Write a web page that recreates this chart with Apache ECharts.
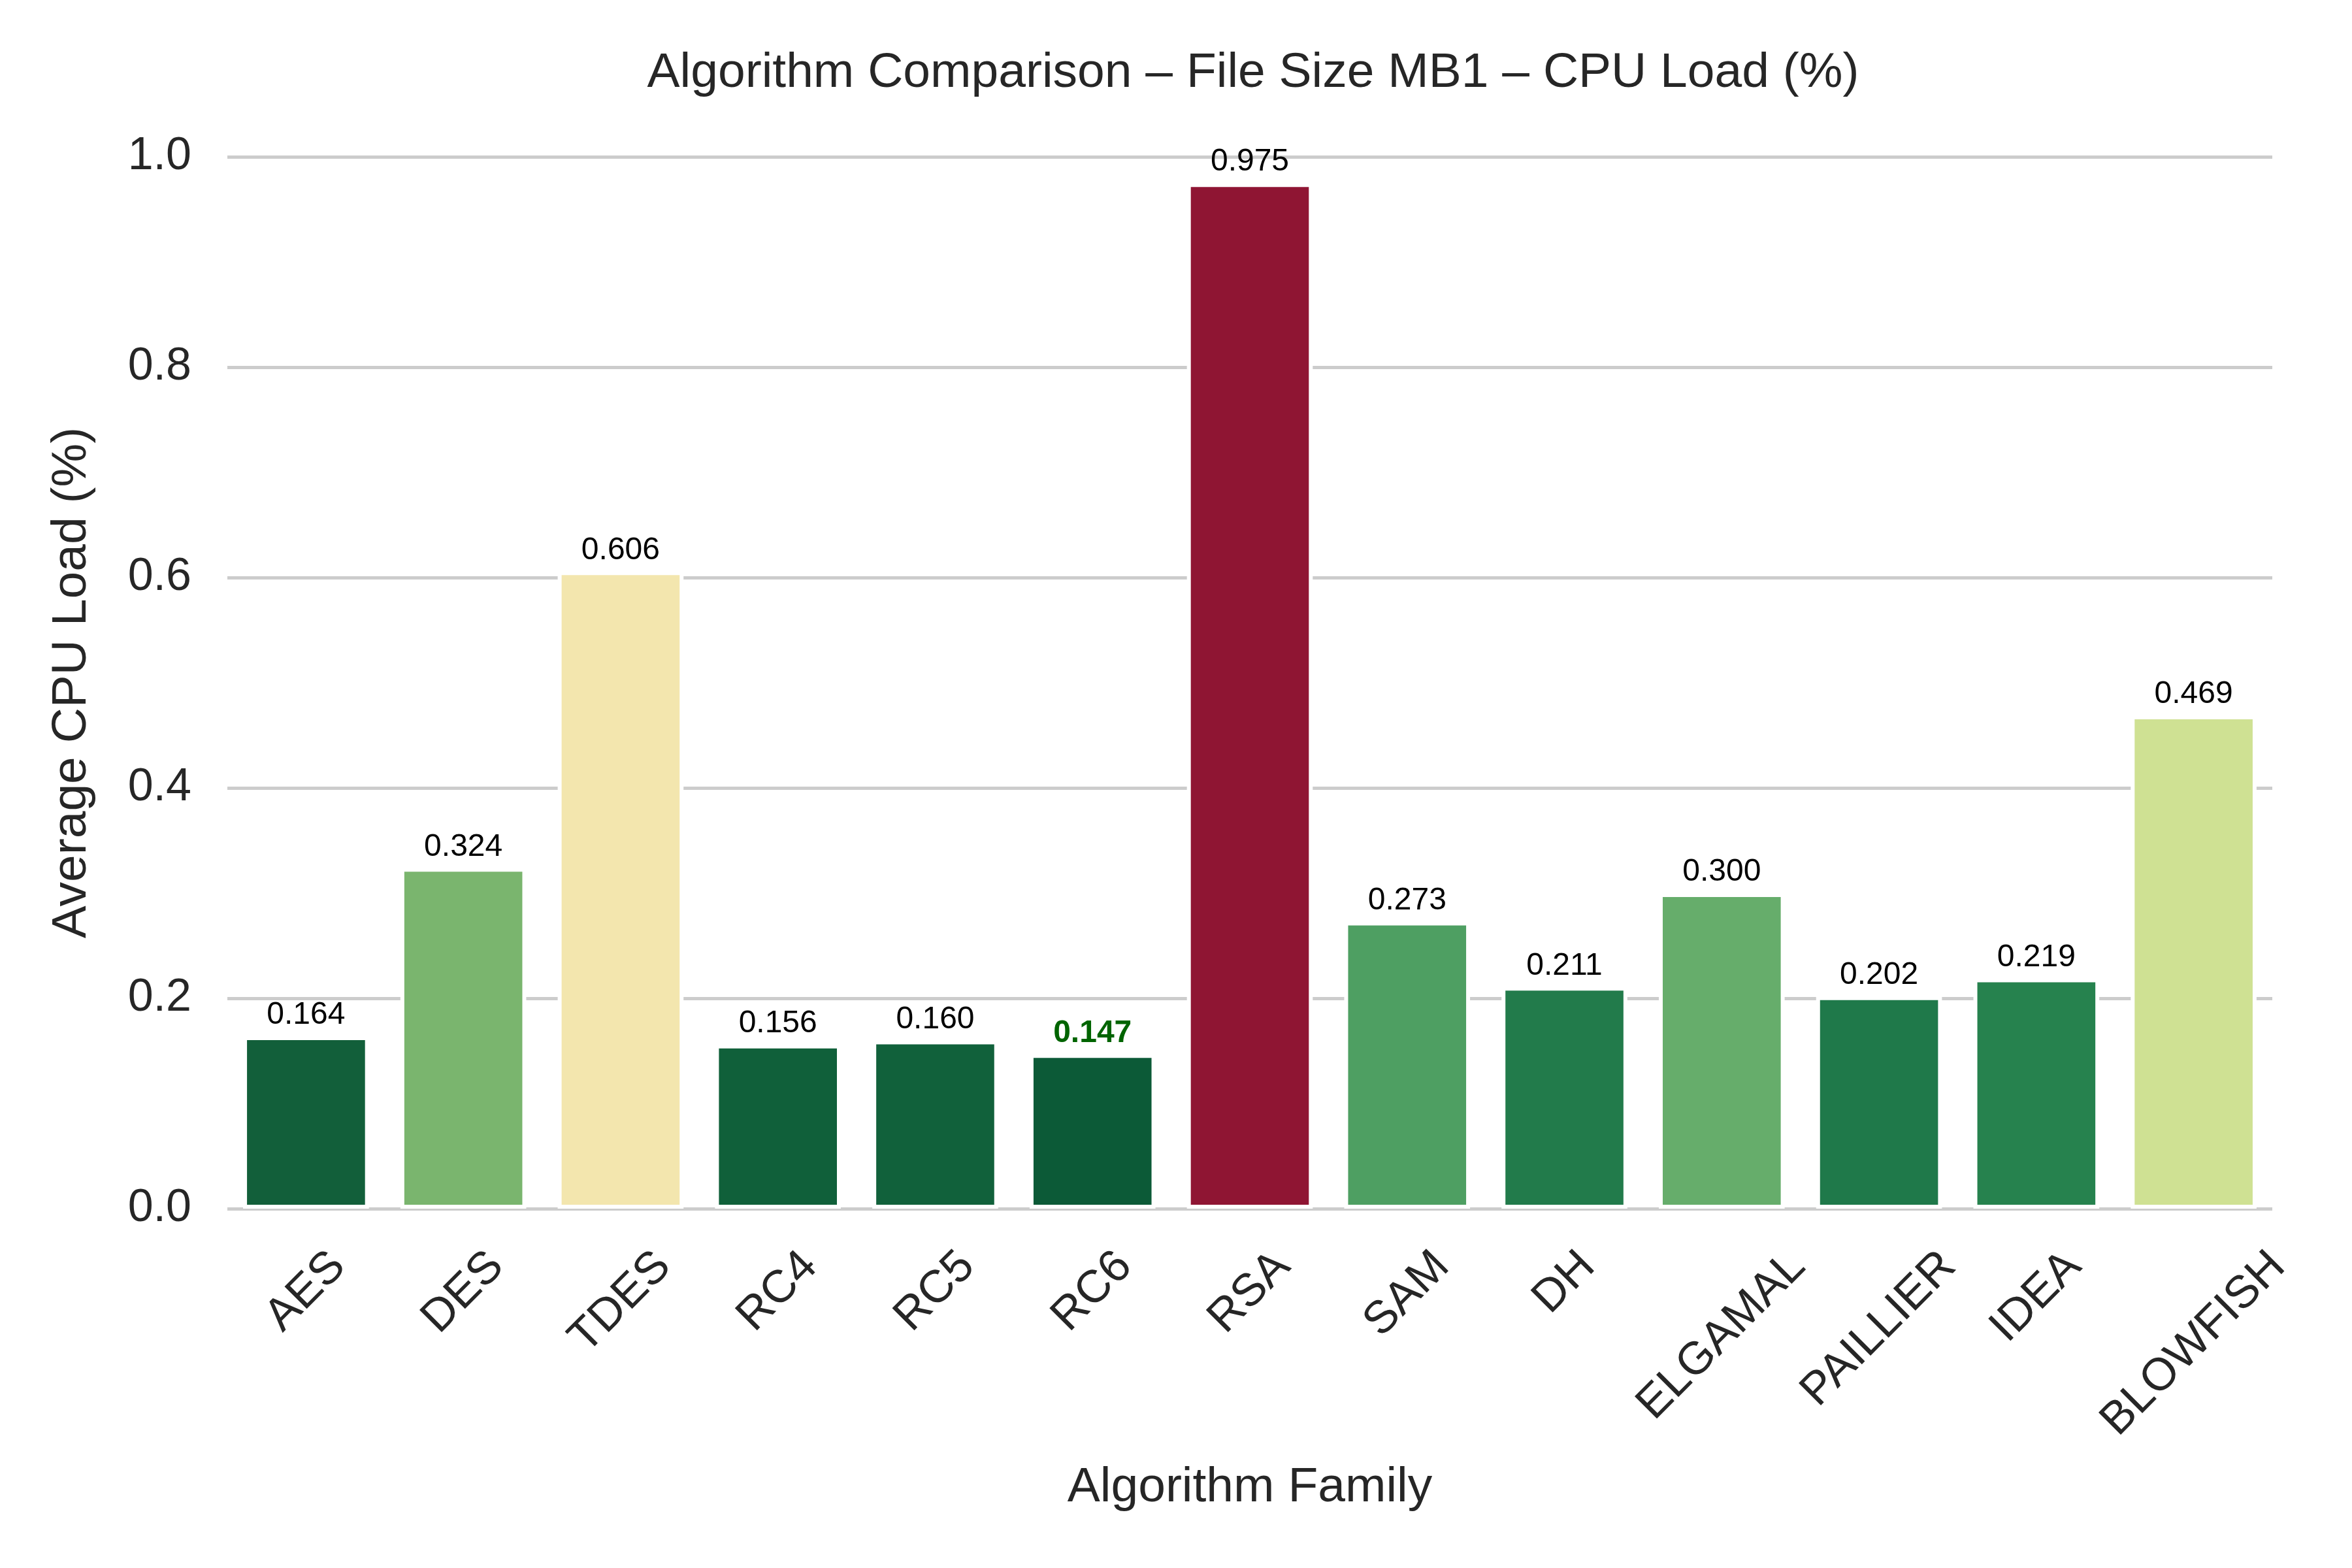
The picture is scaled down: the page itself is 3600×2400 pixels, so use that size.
<!DOCTYPE html>
<html>
<head>
<meta charset="utf-8">
<script src="https://cdn.jsdelivr.net/npm/echarts@6/dist/echarts.min.js"></script>
<style>
html,body{margin:0;padding:0;background:#fff;}
#chart{width:3600px;height:2400px;}
</style>
</head>
<body>
<div id="chart"></div>
<script>
const categories = ['AES','DES','TDES','RC4','RC5','RC6','RSA','SAM','DH','ELGAMAL','PAILLIER','IDEA','BLOWFISH'];
const cpuLoad = [0.164,0.324,0.606,0.156,0.160,0.147,0.975,0.273,0.211,0.300,0.202,0.219,0.469];
const yTicks = [0.0,0.2,0.4,0.6,0.8,1.0];
const barColors = ['#125f3a','#7ab56e','#f3e6ae','#10603a','#11613b','#0c5a37','#8f1533','#4e9f62','#227b4b','#66ad6b','#1f794a','#26824e','#cfe193'];

const FONT = '"Liberation Sans", Arial, Helvetica, sans-serif';
const TXT = '#262626';
const tickFs = 70;

// measure label widths for matplotlib-like centered rotated labels
const ctx = document.createElement('canvas').getContext('2d');
ctx.font = tickFs + 'px "Liberation Sans"';
const rich = {};
categories.forEach((c, i) => {
  const L = ctx.measureText(c).width;
  const s = 50 + 0.354 * (L + 78);
  const P = 1.414 * s;
  rich['s' + i] = {
    fontSize: tickFs, fontFamily: FONT, color: TXT,
    padding: [P, P, 0, 0]
  };
});

let minIdx = 0;
cpuLoad.forEach((v, i) => { if (v < cpuLoad[minIdx]) minIdx = i; });

const data = cpuLoad.map((v, i) => {
  const item = { value: v, itemStyle: { color: barColors[i] } };
  if (i === minIdx) item.label = { fontWeight: 'bold', color: '#006400' };
  return item;
});

const chart = echarts.init(document.getElementById('chart'), null, { renderer: 'canvas' });
chart.setOption({
  backgroundColor: '#ffffff',
  animation: false,
  title: {
    text: 'Algorithm Comparison \u2013 File Size MB1 \u2013 CPU Load (%)',
    left: 1913, top: 70, textAlign: 'center',
    textStyle: { fontSize: 75, fontWeight: 'normal', color: TXT, fontFamily: FONT }
  },
  grid: { left: 348, right: 122, top: 240, bottom: 550, containLabel: false },
  xAxis: {
    type: 'category',
    data: categories,
    name: 'Algorithm Family',
    nameLocation: 'middle',
    nameGap: 390,
    nameTextStyle: { fontSize: 75, color: TXT, fontFamily: FONT },
    axisLine: { show: false },
    axisTick: { show: false },
    axisLabel: {
      interval: 0,
      rotate: 45,
      margin: 0,
      align: 'center',
      verticalAlign: 'middle',
      fontSize: tickFs, fontFamily: FONT, color: TXT,
      formatter: (val, idx) => '{s' + idx + '|' + val + '}',
      rich: rich
    }
  },
  yAxis: {
    type: 'value',
    min: 0, max: 1.0, interval: 0.2,
    name: 'Average CPU Load (%)',
    nameLocation: 'middle',
    nameGap: 200,
    nameTextStyle: { fontSize: 75, color: TXT, fontFamily: FONT },
    axisLine: { show: false },
    axisTick: { show: false },
    axisLabel: {
      fontSize: tickFs, fontFamily: FONT, color: TXT, margin: 55,
      formatter: v => v.toFixed(1)
    },
    splitLine: { show: true, lineStyle: { color: '#cccccc', width: 5 } }
  },
  series: [{
    type: 'bar',
    data: data,
    barCategoryGap: '20%',
    itemStyle: { borderColor: '#ffffff', borderWidth: 6 },
    label: {
      show: true,
      position: 'top',
      distance: 8,
      fontSize: 48,
      fontFamily: FONT,
      color: '#000000',
      formatter: p => p.value.toFixed(3)
    }
  }]
});
</script>
</body>
</html>
